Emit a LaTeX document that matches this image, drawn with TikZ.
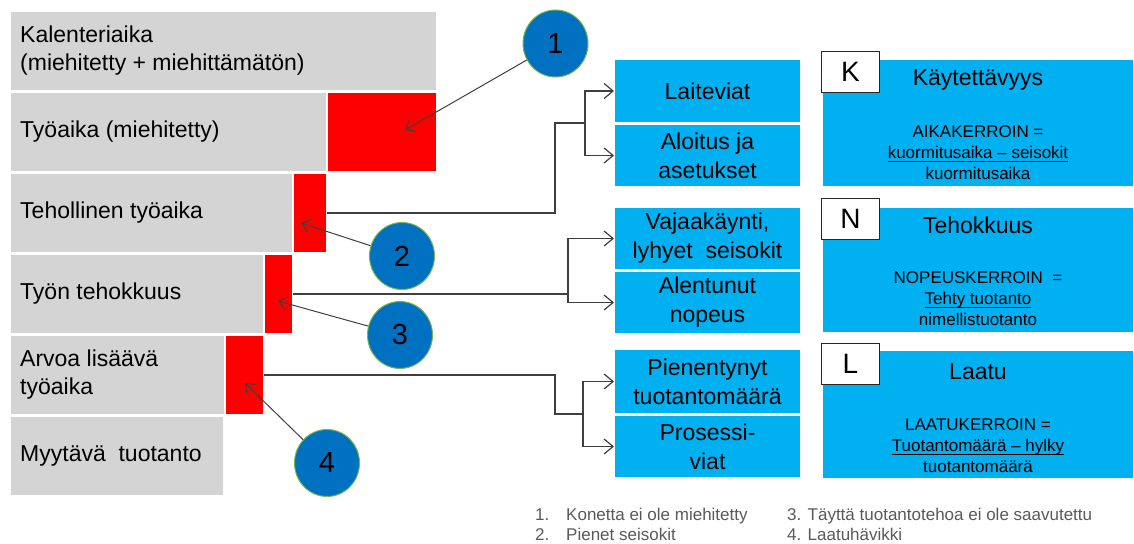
\documentclass[tikz,border=0pt]{standalone}
\usepackage{fontspec}
\setmainfont{Liberation Sans}
\usetikzlibrary{arrows.meta,shapes.geometric}
\definecolor{bargray}{HTML}{D4D4D4}
\definecolor{lossred}{HTML}{FF0000}
\definecolor{boxblue}{HTML}{00B0F0}
\definecolor{ballblue}{HTML}{0070C0}
\definecolor{ballrim}{HTML}{7AB648}
\definecolor{linegray}{HTML}{3F3F3F}
\definecolor{notegray}{HTML}{595959}
\newcommand{\fsz}[2]{\fontsize{#1}{#2}\selectfont}
% numerator rule that does not disturb the line spacing
\newcommand{\numer}[1]{\setbox0\hbox{#1}\rlap{\rule[-3pt]{\wd0}{0.9pt}}\box0}

\begin{document}
\begin{tikzpicture}[x=1pt,y=-1pt,
  box/.style={rectangle, draw=white, line width=1.2pt, inner sep=0pt, outer sep=0pt, anchor=north west},
  graybar/.style={box, fill=bargray},
  redbar/.style={box, fill=lossred},
  bluebox/.style={box, fill=boxblue, align=center, font=\fsz{23}{29}},
  bartext/.style={anchor=west, align=left, inner sep=0pt, font=\fsz{23}{28}},
  title/.style={inner sep=0pt, font=\fsz{23}{28}},
  formula/.style={inner sep=0pt, align=center, font=\fsz{17}{21}},
  letterbox/.style={rectangle, draw=black!85, line width=1pt, fill=white, anchor=north west,
    minimum width=58pt, minimum height=41pt, inner sep=0pt, font=\fsz{28}{28}},
  ball/.style={ellipse, fill=ballblue, draw=ballrim, line width=1pt, minimum width=65pt,
    minimum height=67pt, inner sep=0pt, font=\fsz{29}{29}},
  conn/.style={draw=linegray, line width=1.2pt},
  arr/.style={conn, -{Straight Barb[length=9pt,width=15pt,line width=1.2pt]}},
  callout/.style={draw=linegray, line width=1pt, -{Straight Barb[length=8pt,width=13pt,line width=1pt]}},
  note/.style={anchor=base west, inner sep=0pt, text=notegray, font=\fsz{17}{20}}
]
\useasboundingbox (0,0) rectangle (1134,543);

% --- time breakdown bars ---
\node[graybar, minimum width=427pt, minimum height=80pt] (cal) at (10,11) {};
\node[graybar, minimum width=317pt, minimum height=80pt] (work) at (10,92) {};
\node[redbar,  minimum width=110pt, minimum height=80pt] (loss1) at (327,92) {};
\node[graybar, minimum width=283pt, minimum height=80pt] (eff) at (10,173) {};
\node[redbar,  minimum width=34pt,  minimum height=80pt] (loss2) at (293,173) {};
\node[graybar, minimum width=254pt, minimum height=80pt] (perf) at (10,254) {};
\node[redbar,  minimum width=29pt,  minimum height=80pt] (loss3) at (264,254) {};
\node[graybar, minimum width=215pt, minimum height=80pt] (val) at (10,335) {};
\node[redbar,  minimum width=39pt,  minimum height=80pt] (loss4) at (225,335) {};
\node[graybar, minimum width=214pt, minimum height=80pt] (sale) at (10,416) {};

\node[bartext] (calT)  at ([xshift=10pt]cal.west)  {Kalenteriaika\\(miehitetty + miehittämätön)};
\node[bartext] (workT) at ([xshift=10pt]work.west) {Työaika (miehitetty)};
\node[bartext] (effT)  at ([xshift=10pt]eff.west)  {Tehollinen työaika};
\node[bartext] (perfT) at ([xshift=10pt]perf.west) {Työn tehokkuus};
\node[bartext] (valT)  at ([xshift=10pt]val.west)  {Arvoa lisäävä\\työaika};
\node[bartext] (saleT) at ([xshift=10pt]sale.west) {Myytävä\ \ tuotanto};

% --- loss causes ---
\node[bluebox, minimum width=187pt, minimum height=64pt] (fault) at (614,59)  {Laiteviat};
\node[bluebox, minimum width=187pt, minimum height=63pt] (setup) at (614,124) {Aloitus ja\\asetukset};
\node[bluebox, minimum width=187pt, minimum height=63pt] (idle)  at (614,207) {Vajaakäynti,\\lyhyet\ \ seisokit};
\node[bluebox, minimum width=187pt, minimum height=63pt] (speed) at (614,271) {Alentunut\\nopeus};
\node[bluebox, minimum width=187pt, minimum height=65pt] (yield) at (614,349) {Pienentynyt\\tuotantomäärä};
\node[bluebox, minimum width=187pt, minimum height=63pt] (defect) at (614,415) {Prosessi-\\viat};

% --- OEE factors ---
\node[box, fill=boxblue, minimum width=312pt, minimum height=128pt] (availB) at (822,59) {};
\node[box, fill=boxblue, minimum width=312pt, minimum height=126pt] (perfB)  at (822,207) {};
\node[box, fill=boxblue, minimum width=312pt, minimum height=129pt] (qualB)  at (822,350) {};

\node[title] (availH) at (978,80)  {Käytettävyys};
\node[title] (perfH)  at (978,225) {Tehokkuus};
\node[title] (qualH)  at (978,372) {Laatu};

\node[formula] (availF) at (978,153) {AIKAKERROIN =\\\numer{kuormitusaika – seisokit}\\kuormitusaika};
\node[formula] (perfF)  at (978,299) {NOPEUSKERROIN\ \ =\\\numer{Tehty tuotanto}\\nimellistuotanto};
\node[formula] (qualF)  at (978,446) {LAATUKERROIN =\\\numer{Tuotantomäärä – hylky}\\tuotantomäärä};

\node[letterbox] (kK) at (821,51)  {K};
\node[letterbox] (kN) at (821,198) {N};
\node[letterbox] (kL) at (821,343) {L};

% --- connectors from the loss blocks to their causes ---
\coordinate (k1) at (555,123);
\coordinate (j1) at (585,123);
\draw[conn] (loss2.east) -| (k1) -- (j1);
\draw[arr] (j1) |- (fault.west);
\draw[arr] (j1) |- (setup.west);

\coordinate (j2) at (568,294);
\draw[conn] (loss3.east) -- (j2);
\draw[arr] (j2) |- (idle.west);
\draw[arr] (j2) |- (speed.west);

\coordinate (k3) at (555,414);
\coordinate (j3) at (583,414);
\draw[conn] (loss4.east) -| (k3) -- (j3);
\draw[arr] (j3) |- (yield.west);
\draw[arr] (j3) |- (defect.west);

% --- numbered balls ---
\node[ball] (b1) at (555.5,43.5) {1};
\node[ball] (b2) at (402,256) {2};
\node[ball] (b3) at (400,335) {3};
\node[ball] (b4) at (327,463) {4};

\coordinate (t1) at (405,130);
\coordinate (t2) at (301,223);
\coordinate (t3) at (278,301);
\coordinate (t4) at (245,383);
\draw[callout] (b1) -- (t1);
\draw[callout] (b2) -- (t2);
\draw[callout] (b3) -- (t3);
\draw[callout] (b4) -- (t4);

% --- legend ---
\node[note] (n1)  at (535,520) {1.};
\node[note] (n1t) at (566,520) {Konetta ei ole miehitetty};
\node[note] (n2)  at (535,540) {2.};
\node[note] (n2t) at (566,540) {Pienet seisokit};
\node[note] (n3)  at (787,520) {3. Täyttä tuotantotehoa ei ole saavutettu};
\node[note] (n4)  at (787,540) {4. Laatuhävikki};
\end{tikzpicture}
\end{document}
